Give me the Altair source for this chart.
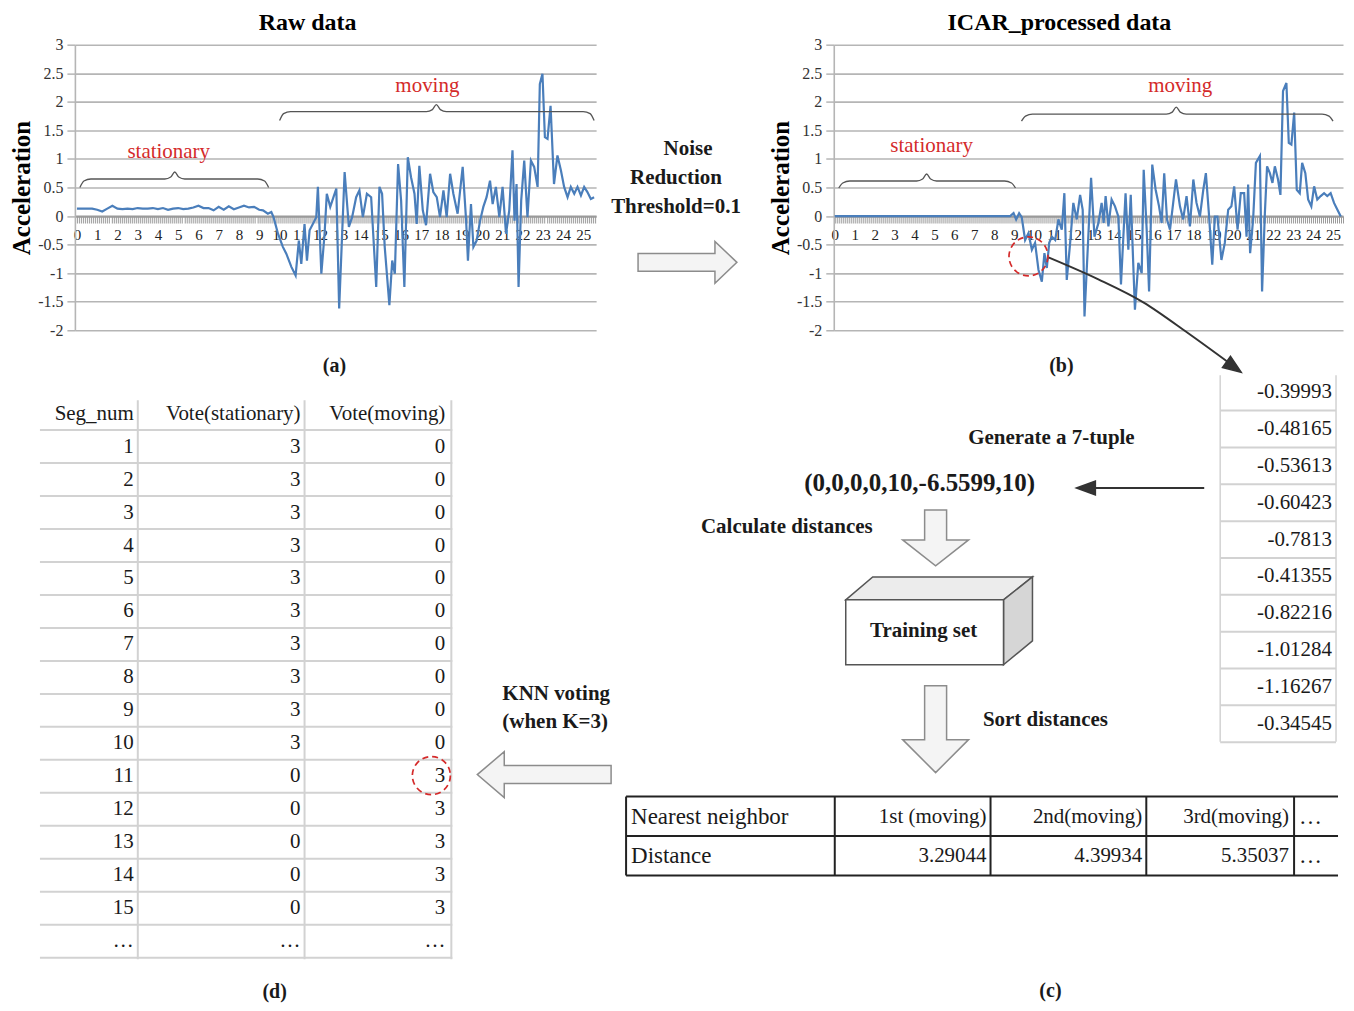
import math
import altair as alt
import pandas as pd

SERIF = "Liberation Serif"
BLUE = "#4a7ebb"
GRID = "#b5b5b5"
INK = "#1a1a1a"
RED = "#d42a2a"
LIGHT = "#d2d2d2"

# ---------------- panel (a): raw acceleration ----------------
raw_t = [0, 0.25, 0.5, 0.75, 1.0, 1.25, 1.5, 1.75, 2.0, 2.25, 2.5, 2.75, 3.0, 3.25, 3.5, 3.75,
         4.0, 4.25, 4.5, 4.75, 5.0, 5.25, 5.5, 5.75, 6.0, 6.25, 6.5, 6.75, 7.0, 7.25, 7.5, 7.75,
         8.0, 8.25, 8.5, 8.75, 9.0,
         9.19, 9.43, 9.60, 9.71, 9.93, 10.17, 10.34, 10.59, 10.80, 10.96, 11.08, 11.24, 11.36,
         11.49, 11.65, 11.82, 11.90, 12.07, 12.23, 12.34, 12.51, 12.67, 12.81, 12.95, 13.22,
         13.43, 13.59, 13.79, 13.95, 14.12, 14.32, 14.53, 14.78, 14.94, 15.07, 15.20, 15.43,
         15.57, 15.70, 15.86, 16.01, 16.17, 16.34, 16.50, 16.67, 16.78, 16.91, 17.08, 17.24,
         17.44, 17.60, 17.77, 17.93, 18.10, 18.26, 18.43, 18.59, 18.80, 19.05, 19.22, 19.31,
         19.46, 19.58, 19.74, 19.91, 20.07, 20.23, 20.40, 20.53, 20.69, 20.86, 21.02, 21.19,
         21.35, 21.51, 21.61, 21.71, 21.81, 21.94, 22.09, 22.25, 22.42, 22.58, 22.75, 22.86,
         22.99, 23.11, 23.24, 23.39, 23.56, 23.73, 23.90, 24.06, 24.23, 24.39, 24.56, 24.72,
         24.89, 25.05, 25.21, 25.38, 25.54]
raw_acc = [0.13, 0.13, 0.13, 0.13, 0.11, 0.08, 0.13, 0.18, 0.13, 0.12, 0.13, 0.12, 0.14, 0.13,
           0.13, 0.14, 0.12, 0.14, 0.11, 0.13, 0.14, 0.12, 0.13, 0.15, 0.18, 0.14, 0.14, 0.10,
           0.16, 0.11, 0.17, 0.12, 0.15, 0.18, 0.15, 0.16, 0.11,
           0.10, 0.04, 0.07, -0.02, -0.31, -0.54, -0.66, -0.89, -1.04, -0.43, -0.84, -0.14, -0.78,
           -0.25, -0.14, -0.02, 0.51, -1.01, -0.31, 0.39, 0.16, 0.33, 0.48, -1.62, 0.77,
           -0.19, -0.02, 0.33, 0.45, -0.02, 0.39, 0.33, -1.24, 0.51, 0.39, -0.54, -1.56,
           -0.78, -1.01, 0.91, 0.27, -1.24, 1.03, 0.68, 0.39, -0.14, 0.88, 0.10, -0.16,
           0.74, 0.42, 0.33, -0.02, 0.45, -0.02, 0.74, 0.39, 0.04, 0.86, -0.08, -0.78,
           0.21, -0.54, -0.43, -0.08, 0.16, 0.33, 0.62, 0.21, 0.51, -0.02, 0.51, -0.31,
           0.10, 1.15, -0.08, 0.56, -1.24, 0.27, 0.97, -0.02, 0.97, 0.86, 0.51, 2.31,
           2.49, 1.38, 1.35, 1.93, 0.56, 1.06, 0.80, 0.51, 0.33, 0.51, 0.39, 0.51,
           0.36, 0.51, 0.42, 0.30, 0.33]

# ---------------- panel (b): ICAR processed acceleration ----------------
icar_t = [0, 0.5, 1.0, 1.5, 2.0, 2.5, 3.0, 3.5, 4.0, 4.5, 5.0, 5.5, 6.0, 6.5, 7.0, 7.5, 8.0, 8.5,
          8.80, 8.97, 9.10, 9.25, 9.38, 9.55, 9.72, 9.89, 10.05, 10.22, 10.39, 10.52, 10.64,
          10.76, 10.89, 11.06, 11.22, 11.39, 11.52, 11.64, 11.81, 11.97, 12.14, 12.31, 12.44,
          12.53, 12.69, 12.86, 13.03, 13.23, 13.39, 13.49, 13.59, 13.73, 13.89, 14.06, 14.23,
          14.36, 14.48, 14.59, 14.73, 14.85, 14.98, 15.06, 15.23, 15.40, 15.50, 15.65, 15.77,
          15.93, 16.10, 16.27, 16.40, 16.53, 16.67, 16.82, 16.98, 17.12, 17.32, 17.48, 17.65,
          17.82, 17.99, 18.15, 18.32, 18.49, 18.62, 18.77, 18.94, 19.07, 19.20, 19.40, 19.57,
          19.74, 19.90, 20.04, 20.21, 20.37, 20.54, 20.66, 20.74, 20.84, 20.99, 21.13, 21.33,
          21.44, 21.58, 21.69, 21.83, 21.96, 22.08, 22.24, 22.36, 22.49, 22.66, 22.78, 22.91,
          23.05, 23.18, 23.33, 23.45, 23.61, 23.75, 23.91, 24.05, 24.21, 24.38, 24.55, 24.71,
          24.88, 25.05, 25.22, 25.39]
icar_acc = [0, 0, 0, 0, 0, 0, 0, 0, 0, 0, 0, 0, 0, 0, 0, 0, 0, 0,
            0.00, 0.05, -0.06, 0.05, -0.02, -0.42, -0.30, -0.59, -0.47, -0.94, -1.15, -0.65, -0.91,
            -0.47, -0.36, -0.42, -0.06, -0.24, 0.40, -1.12, -0.47, 0.23, -0.06, 0.37, 0.11,
            -1.76, -0.59, 0.67, -0.36, -0.12, 0.23, -0.12, 0.35, -0.18, 0.29, 0.17, -0.01,
            -1.20, -0.36, 0.40, -0.59, 0.37, -0.88, -1.64, -0.82, -1.00, 0.81, -0.24, -1.32,
            0.90, 0.46, 0.17, -0.12, 0.75, -0.06, -0.24, 0.23, 0.64, 0.17, -0.06, 0.35,
            -0.18, 0.64, 0.23, -0.01, 0.46, 0.75, 0.05, -0.85, -0.01, -0.01, -0.77, -0.47,
            0.11, 0.17, 0.52, -0.24, 0.40, 0.40, -0.36, 0.55, -0.65, -0.06, 0.93, 1.05,
            -1.32, 0.05, 0.87, 0.75, 0.58, 0.87, 0.64, 0.37, 2.19, 2.33, 1.28, 1.25,
            1.81, 0.46, 0.40, 0.93, 0.75, 0.29, 0.17, 0.52, 0.29, 0.35, 0.40, 0.35,
            0.40, 0.23, 0.11, -0.01]

x_ticks_a = [round(i * 0.1, 1) for i in range(0, 257)]
x_ticks_b = [round(i * 0.1, 1) for i in range(0, 256)]
y_ticks = [-2, -1.5, -1, -0.5, 0, 0.5, 1, 1.5, 2, 2.5, 3]

# ---------------- panel (d): voting table ----------------
vote_header = ["Seg_num", "Vote(stationary)", "Vote(moving)"]
seg_num = [str(i) for i in range(1, 16)] + ["…"]
vote_stationary = ["3"] * 10 + ["0"] * 5 + ["…"]
vote_moving = ["0"] * 10 + ["3"] * 5 + ["…"]

# ---------------- panel (c): flow ----------------
segment_values = ["-0.39993", "-0.48165", "-0.53613", "-0.60423", "-0.7813",
                  "-0.41355", "-0.82216", "-1.01284", "-1.16267", "-0.34545"]
neighbor_header = ["Nearest neighbor", "1st (moving)", "2nd(moving)", "3rd(moving)", "…"]
neighbor_distance = ["Distance", "3.29044", "4.39934", "5.35037", "…"]
tuple_text = "(0,0,0,0,10,-6.5599,10)"

# ======================= line charts =======================
H = 286


def line_chart(ts, vals, xdom, ticks, width, title, dx):
    df = pd.DataFrame({"t": ts, "acc": vals})
    zero_off = -(0 - (-2)) / 5 * H
    x = alt.X("t:Q", scale=alt.Scale(domain=xdom, nice=False, zero=False),
              axis=alt.Axis(values=ticks,
                            labelExpr="abs(datum.value - round(datum.value)) < 0.001 ? '' + round(datum.value) : ''",
                            offset=zero_off, grid=False, domainColor="#9a9a9a", domainWidth=2,
                            tickColor="#9a9a9a", tickSize=7, tickWidth=1,
                            labelFont=SERIF, labelFontSize=15, labelColor="#222",
                            labelPadding=5, labelOverlap=False, labelFlush=False, title=None))
    y = alt.Y("acc:Q", scale=alt.Scale(domain=[-2, 3], nice=False, zero=False),
              axis=alt.Axis(values=y_ticks, labelExpr="'' + datum.value", grid=True,
                            gridColor=GRID, gridWidth=1.6, domainColor=GRID, domainWidth=1.6,
                            tickColor=GRID, tickSize=8, tickWidth=1.5,
                            labelFont=SERIF, labelFontSize=16, labelColor="#333", labelPadding=4,
                            title="Acceleration", titleFont=SERIF, titleFontSize=25,
                            titleFontWeight="bold", titleColor="black", titlePadding=3))
    return alt.Chart(df).mark_line(color=BLUE, strokeWidth=2.2).encode(x=x, y=y).properties(
        width=width, height=H,
        title=alt.Title(title, font=SERIF, fontSize=24, fontWeight="bold", color="black",
                        anchor="middle", dx=dx, offset=2))


chart_a = line_chart(raw_t, raw_acc, [-0.1, 25.64], x_ticks_a, 522, "Raw data", -28)
chart_b = line_chart(icar_t, icar_acc, [-0.05, 25.5], x_ticks_b, 510, "ICAR_processed  data", -29)

# ======================= canvas (figure pixel space) =======================
CX0, CX1 = 75, 1346
CY0, CY1 = 350, 1003
xsc = alt.Scale(domain=[CX0, CX1], nice=False, zero=False)
ysc = alt.Scale(domain=[CY0, CY1], nice=False, zero=False, reverse=True)


def X(f):
    return alt.X(f"{f}:Q", scale=xsc, axis=None)


def Y(f):
    return alt.Y(f"{f}:Q", scale=ysc, axis=None)


# polygons drawn as custom symbols
def poly(pts, fill, stroke):
    xs = [p[0] for p in pts]
    ys = [p[1] for p in pts]
    cx = (min(xs) + max(xs)) / 2
    cy = (min(ys) + max(ys)) / 2
    r = max(max(xs) - min(xs), max(ys) - min(ys)) / 2
    path = "M" + "L".join(f"{(px - cx) / r:.4f},{(py - cy) / r:.4f}" for px, py in pts) + "Z"
    return dict(cx=cx, cy=cy, size=(2 * r) ** 2, path=path, fill=fill, stroke=stroke)


ARW_FILL, ARW_STROKE = "#f4f4f4", "#8c8c8c"
shapes = [
    poly([(639, 253), (716, 253), (716, 241), (738, 262), (716, 283), (716, 271), (639, 271)], ARW_FILL, ARW_STROKE),
    poly([(926, 510), (948, 510), (948, 540), (970, 540), (937, 566), (904, 540), (926, 540)], ARW_FILL, ARW_STROKE),
    poly([(926, 686), (948, 686), (948, 740), (970, 740), (937, 773), (904, 740), (926, 740)], ARW_FILL, ARW_STROKE),
    poly([(612, 766), (612, 784), (505, 784), (505, 798), (478, 775), (505, 752), (505, 766)], ARW_FILL, ARW_STROKE),
    poly([(847, 600), (874, 577), (1034, 577), (1005, 600)], "#ececec", "#555555"),
    poly([(1005, 600), (1034, 577), (1034, 641), (1005, 665)], "#d6d6d6", "#555555"),
    poly([(847, 600), (1005, 600), (1005, 665), (847, 665)], "#ffffff", "#555555"),
    poly([(1078, 488), (1097, 481), (1097, 495)], "#333333", "#333333"),
    poly([(1243, 372), (1232.3, 356.0), (1224.3, 367.4)], "#333333", "#333333"),
]
shape_layer = alt.Chart(pd.DataFrame(shapes)).mark_point(filled=True, opacity=1, strokeWidth=1.5).encode(
    x=X("cx"), y=Y("cy"), shape=alt.Shape("path:N", scale=None), size=alt.Size("size:Q", scale=None),
    fill=alt.Fill("fill:N", scale=None), stroke=alt.Stroke("stroke:N", scale=None))

# straight lines
rules = []


def rule(x, y, x2, y2, c, w):
    rules.append(dict(x=x, y=y, x2=x2, y2=y2, c=c, w=w))


TD_LINE0, TD_STEP = 430, 33.02
for k in range(17):
    yy = TD_LINE0 + k * TD_STEP
    rule(40, yy, 453, yy, LIGHT, 2)
for vx in (138, 305, 452):
    rule(vx, 400, vx, 960, LIGHT, 2)
VL_Y0, VL_STEP = 392, 36.9
for k in range(10):
    yy = VL_Y0 + (k + 0.5) * VL_STEP
    rule(1222, yy, 1338, yy, LIGHT, 2)
rule(1222, 375, 1222, 742, LIGHT, 1.5)
rule(1338, 375, 1338, 742, LIGHT, 1.5)
for yy in (797, 836.5, 876):
    rule(627, yy, 1340, yy, "#222222", 2)
for vx in (627, 836, 992, 1148, 1296):
    rule(vx, 797, vx, 876, "#222222", 2)
rule(1090, 488, 1206, 488, "#333333", 2)
rule_layer = alt.Chart(pd.DataFrame(rules)).mark_rule().encode(
    x=X("x"), y=Y("y"), x2="x2:Q", y2="y2:Q",
    color=alt.Color("c:N", scale=None), strokeWidth=alt.StrokeWidth("w:Q", scale=None))

# curved lines: braces and the pointer arrow
curves = []


def brace(name, x0, x1, xc, y, drop, peak):
    pts = [(x0, y + drop), (x0 + 4, y + 2), (x0 + 11, y), (xc - 10, y), (xc - 4, y - 2),
           (xc, y - peak), (xc + 4, y - 2), (xc + 10, y), (x1 - 11, y), (x1 - 4, y + 2), (x1, y + drop)]
    for i, (px, py) in enumerate(pts):
        curves.append(dict(id=name, o=i, x=px, y=py, c="#555555", w=1.3))


brace("a_st", 80, 269, 175, 178.5, 8.5, 7)
brace("a_mv", 280, 595, 437, 111, 9, 7)
brace("b_st", 840, 1017, 928, 180.5, 7, 7)
brace("b_mv", 1023, 1335, 1178, 113.5, 7, 7)
for i, (px, py) in enumerate([(1050, 257), (1100, 279), (1145, 302), (1190, 333), (1230, 362)]):
    curves.append(dict(id="ptr", o=i, x=px, y=py, c="#333333", w=2))
curve_layer = alt.Chart(pd.DataFrame(curves)).mark_line(interpolate="monotone").encode(
    x=X("x"), y=Y("y"), detail="id:N", order="o:Q",
    color=alt.Color("c:N", scale=None), strokeWidth=alt.StrokeWidth("w:Q", scale=None))

# red dashed circles
circles = pd.DataFrame([dict(x=1030, y=256, size=math.pi * 22 ** 2),
                        dict(x=432, y=776, size=math.pi * 21.5 ** 2)])
circle_layer = alt.Chart(circles).mark_point(shape="circle", filled=False, opacity=1, color=RED,
                                             strokeWidth=1.7, strokeDash=[6, 4]).encode(
    x=X("x"), y=Y("y"), size=alt.Size("size:Q", scale=None))

# bold centred labels
bold_labels = pd.DataFrame([
    dict(t="Noise", x=689, y=148, s=21), dict(t="Reduction", x=677, y=178, s=21),
    dict(t="Threshold=0.1", x=677, y=207, s=21),
    dict(t="(a)", x=335, y=366, s=20), dict(t="(b)", x=1063, y=366, s=20),
    dict(t="(c)", x=1052, y=992, s=20), dict(t="(d)", x=275, y=993, s=20),
    dict(t="Generate a 7-tuple", x=1053, y=438, s=21), dict(t=tuple_text, x=921, y=483, s=25),
    dict(t="Calculate distances", x=788, y=527, s=21), dict(t="Training set", x=925, y=631, s=21),
    dict(t="Sort distances", x=1047, y=720, s=21), dict(t="KNN voting", x=557, y=694, s=21),
    dict(t="(when K=3)", x=556, y=722, s=21),
])
bold_layer = alt.Chart(bold_labels).mark_text(font=SERIF, fontWeight="bold", align="center",
                                              baseline="middle", color=INK).encode(
    x=X("x"), y=Y("y"), text="t:N", size=alt.Size("s:Q", scale=None))

red_labels = pd.DataFrame([dict(t="stationary", x=169, y=151), dict(t="moving", x=428, y=85),
                           dict(t="stationary", x=933, y=145), dict(t="moving", x=1182, y=85)])
red_layer = alt.Chart(red_labels).mark_text(font=SERIF, fontSize=21, align="center",
                                            baseline="middle", color=RED).encode(
    x=X("x"), y=Y("y"), text="t:N")

# right-aligned table texts (panel d, value list, neighbour table numbers)
right_rows = []
td_right = [134, 301, 446]
for j, h in enumerate(vote_header):
    right_rows.append(dict(t=h, x=td_right[j], y=TD_LINE0 - TD_STEP / 2))
for i in range(len(seg_num)):
    yy = TD_LINE0 + (i + 0.5) * TD_STEP
    for j, col in enumerate((seg_num, vote_stationary, vote_moving)):
        right_rows.append(dict(t=col[i], x=td_right[j], y=yy))
for i, v in enumerate(segment_values):
    right_rows.append(dict(t=v, x=1334, y=VL_Y0 + i * VL_STEP))
nb_right = [988, 1144, 1291]
for j in range(1, 4):
    right_rows.append(dict(t=neighbor_header[j], x=nb_right[j - 1], y=817))
    right_rows.append(dict(t=neighbor_distance[j], x=nb_right[j - 1], y=857))
right_layer = alt.Chart(pd.DataFrame(right_rows)).mark_text(font=SERIF, fontSize=21, align="right",
                                                            baseline="middle", color=INK).encode(
    x=X("x"), y=Y("y"), text="t:N")

left_rows = pd.DataFrame([dict(t=neighbor_header[0], x=632, y=817), dict(t=neighbor_distance[0], x=632, y=857),
                          dict(t=neighbor_header[4], x=1301, y=817), dict(t=neighbor_distance[4], x=1301, y=857)])
left_layer = alt.Chart(left_rows).mark_text(font=SERIF, fontSize=23, align="left",
                                            baseline="middle", color=INK).encode(
    x=X("x"), y=Y("y"), text="t:N")

# invisible frame so the whole figure keeps its place on the page
frame = alt.Chart(pd.DataFrame([dict(x0=8, x1=1344, y0=8, y1=1000)])).mark_rect(opacity=0).encode(
    x=X("x0"), x2="x1:Q", y=Y("y0"), y2="y1:Q")

canvas = alt.layer(frame, rule_layer, curve_layer, shape_layer, circle_layer, bold_layer,
                   red_layer, right_layer, left_layer).properties(width=CX1 - CX0, height=CY1 - CY0)

# with flush bounds the nested row counts as zero height, so the gap covers the plot height
row1 = alt.hconcat(chart_a, chart_b, spacing=238, bounds="flush")
chart = alt.vconcat(row1, canvas, spacing=CY0 - 44, bounds="flush").properties(
    padding=0, background="white").configure_view(strokeWidth=0)

chart.save("out.html", embed_options={"renderer": "svg", "actions": False})
